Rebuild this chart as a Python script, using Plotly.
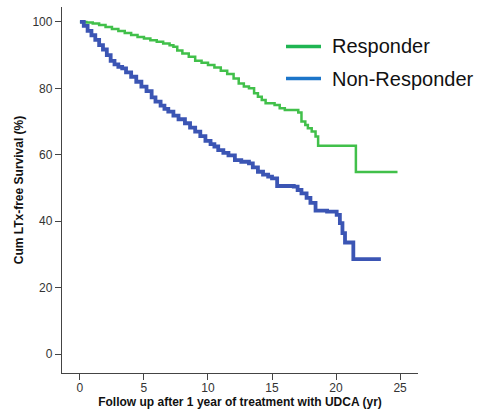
import plotly.graph_objects as go

# Data (Kaplan-Meier style step curves)
resp_t = [0, 0.5, 1.0, 1.5, 2.0, 2.5, 3.0, 3.5, 4.0, 4.5, 5.0, 5.5, 6.0, 6.5, 7.0, 7.3,
          7.6, 8.0, 8.5, 9.0, 9.5, 10.0, 10.5, 11.0, 11.5, 12.0, 12.4, 12.8, 13.2, 13.6,
          13.9, 14.2, 14.5, 15.2, 15.6, 16.0, 17.05, 17.3, 17.6, 17.8, 18.1, 18.4, 18.6,
          21.55, 24.8]
resp_s = [100, 99.8, 99.5, 99.1, 98.5, 97.9, 97.3, 96.7, 96.1, 95.5, 95.0, 94.5, 94.0,
          93.5, 93.0, 92.5, 91.4, 90.5, 89.5, 88.3, 87.7, 87.0, 86.3, 85.3, 84.3, 83.0,
          81.5, 80.6, 80.0, 78.5, 77.5, 76.5, 75.5, 75.0, 74.0, 73.5, 72.7, 70.0, 69.0,
          68.0, 67.0, 65.5, 62.7, 54.8, 54.8]

nonresp_t = [0, 0.3, 0.6, 0.9, 1.2, 1.5, 1.8, 2.1, 2.4, 2.7, 3.0, 3.3, 3.6, 4.0, 4.4, 4.8,
             5.2, 5.6, 5.9, 6.3, 6.6, 6.9, 7.3, 7.7, 8.2, 8.6, 9.0, 9.4, 9.8, 10.2, 10.5,
             10.8, 11.2, 11.6, 12.1, 12.6, 13.2, 13.5, 13.9, 14.3, 14.7, 15.0, 15.4, 16.7,
             17.0, 17.3, 17.7, 18.0, 18.4, 19.3, 20.05, 20.3, 20.5, 20.7, 21.35, 23.5]
nonresp_s = [100, 98.8, 97.3, 96.0, 94.6, 93.0, 91.7, 90.0, 88.3, 87.2, 86.5, 86.0, 84.8,
             83.5, 82.0, 80.5, 79.2, 77.3, 76.0, 74.8, 73.8, 73.0, 71.8, 70.7, 69.5, 68.2,
             67.0, 65.6, 64.2, 63.2, 62.5, 61.4, 60.6, 59.8, 58.4, 57.9, 57.4, 56.2, 54.9,
             54.0, 53.4, 52.9, 50.6, 50.4, 49.4, 48.4, 47.0, 45.5, 43.2, 42.9, 41.9, 39.4,
             36.4, 33.6, 28.6, 28.6]

x_ticks = [0, 5, 10, 15, 20, 25]
y_ticks = [0, 20, 40, 60, 80, 100]
legend_labels = ["Responder", "Non-Responder"]

fig = go.Figure()
fig.add_trace(go.Scatter(x=resp_t, y=resp_s, mode="lines", line_shape="hv",
                         line=dict(color="#41c04a", width=2.5), name=legend_labels[0],
                         showlegend=False))
fig.add_trace(go.Scatter(x=nonresp_t, y=nonresp_s, mode="lines", line_shape="hv",
                         line=dict(color="#3b55b4", width=3.8), name=legend_labels[1],
                         showlegend=False))

# Manual legend
leg_colors = ["#1fb552", "#1c75c9"]
leg_y = [46.5, 78.5]
H = 419
W = 478
for lab, col, yy in zip(legend_labels, leg_colors, leg_y):
    fig.add_shape(type="line", xref="paper", yref="paper",
                  x0=(286 - 62) / 356, x1=(321 - 62) / 356,
                  y0=(373 - yy) / 366, y1=(373 - yy) / 366,
                  line=dict(color=col, width=3.5))
    fig.add_annotation(text=lab, xref="paper", yref="paper",
                       x=(330 - 62) / 356, y=(373 - yy) / 366,
                       xanchor="left", yanchor="middle", showarrow=False,
                       font=dict(family="Liberation Sans, Arial", size=20, color="#111111"))

fig.update_layout(
    width=W, height=H,
    margin=dict(l=62, r=60, t=7, b=46),
    plot_bgcolor="white", paper_bgcolor="white",
    font=dict(family="Liberation Sans, Arial", size=12, color="#333333"),
)
fig.update_xaxes(range=[-1.4, 26.4], tickvals=x_ticks, ticks="outside", ticklen=6,
                 tickcolor="#444", showline=True, linecolor="#444", linewidth=1.3,
                 showgrid=False, zeroline=False, automargin=False,
                 ticklabelstandoff=-3,
                 tickfont=dict(size=12, color="#333"),
                 title=dict(text="<b>Follow up after 1 year of treatment with UDCA (yr)</b>",
                            font=dict(size=12, color="#111"), standoff=2))
fig.update_yaxes(range=[-5.7, 104.5], tickvals=y_ticks, ticks="outside", ticklen=6,
                 tickcolor="#444", showline=True, linecolor="#444", linewidth=1.3,
                 showgrid=False, zeroline=False, automargin=False,
                 tickfont=dict(size=12, color="#333"),
                 title=dict(text="<b>Cum LTx-free Survival (%)</b>",
                            font=dict(size=12, color="#111"), standoff=6))

fig.write_html("out.html", config={"displayModeBar": False},
               post_script="document.body.style.margin='0';document.body.style.overflow='hidden';")
